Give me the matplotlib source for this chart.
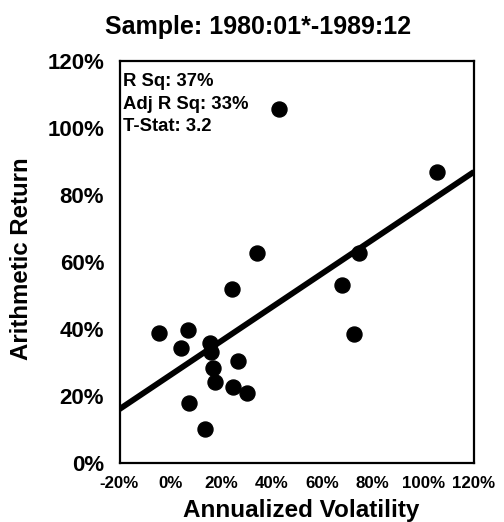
import matplotlib
matplotlib.use("Agg")
import matplotlib.pyplot as plt
from matplotlib.ticker import FuncFormatter

plt.rcParams['font.family'] = ['Liberation Sans', 'DejaVu Sans']

# Data (percent)
volatility = [-4.3, 6.9, 4.3, 15.7, 16.1, 26.9, 16.8, 17.7, 24.9, 30.2,
              7.6, 13.9, 24.3, 34.4, 68.0, 72.6, 74.6, 105.5, 43.0]
arith_return = [38.7, 39.7, 34.2, 35.9, 33.2, 30.4, 28.3, 24.3, 22.8, 20.8,
                17.8, 10.1, 51.9, 62.6, 53.1, 38.5, 62.8, 87.0, 105.6]
fit_intercept = 26.2
fit_slope = 0.506
x_ticks = [-20, 0, 20, 40, 60, 80, 100, 120]
y_ticks = [0, 20, 40, 60, 80, 100, 120]
stats_lines = ["R Sq: 37%", "Adj R Sq: 33%", "T-Stat: 3.2"]
title = "Sample: 1980:01*-1989:12"

fig = plt.figure(figsize=(5.04, 5.22), dpi=100)
ax = fig.add_axes([119.5/504, 1-463/522, (474-119.5)/504, (463-61)/522])

ax.set_xlim(-20, 120)
ax.set_ylim(0, 120)

xs = [x_ticks[0], x_ticks[-1]]
ax.plot(xs, [fit_intercept + fit_slope*x for x in xs], color='black', lw=4.2,
        solid_capstyle='butt', zorder=2, clip_on=True)
ax.plot(volatility, arith_return, 'o', color='black', markersize=10.8, zorder=3)

ax.set_xticks(x_ticks)
ax.set_yticks(y_ticks)
pct = FuncFormatter(lambda v, p: f"{int(v)}%")
ax.xaxis.set_major_formatter(pct)
ax.yaxis.set_major_formatter(pct)
ax.tick_params(axis='both', length=0)
ax.tick_params(axis='x', pad=9.5, labelsize=12.2)
ax.tick_params(axis='y', pad=11, labelsize=16)
for lab in ax.get_xticklabels() + ax.get_yticklabels():
    lab.set_fontweight('bold')

for s in ax.spines.values():
    s.set_linewidth(1.6)
    s.set_color('black')

for i, t in enumerate(stats_lines):
    ax.text(0.011, 0.95 - i*0.057, t, transform=ax.transAxes, fontsize=13.3,
            fontweight='bold', va='center', ha='left')

fig.text(258/504, 1-27/522, title, fontsize=18, fontweight='bold',
         ha='center', va='center')
fig.text(301/504, 1-510/522, "Annualized Volatility", fontsize=17.5,
         fontweight='bold', ha='center', va='center')
fig.text(22/504, 1-259/522, "Arithmetic Return", fontsize=17.3,
         fontweight='bold', ha='center', va='center', rotation=90)

fig.savefig("out.png", dpi=100)
